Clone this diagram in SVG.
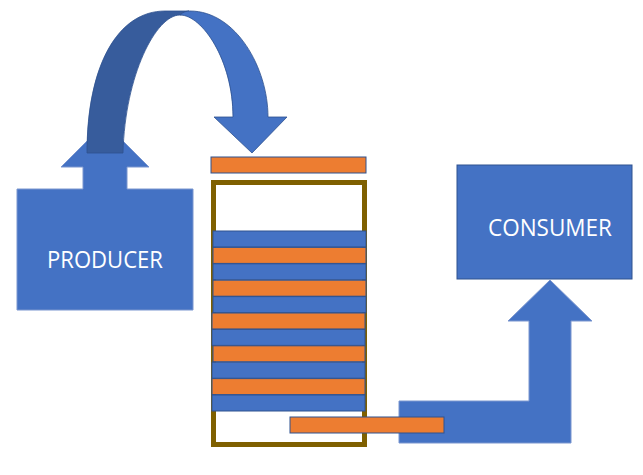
<svg xmlns="http://www.w3.org/2000/svg" width="643" height="475" viewBox="0 0 643 475">
<style>
.blue{fill:#4472C4;stroke:#2F528F;stroke-width:1}
.orange{fill:#ED7D31;stroke:#2F528F;stroke-width:1}
.shape{fill:#4472C4;stroke:#7A96CF;stroke-width:1}
.lbl{font-family:"Open Sans","Liberation Sans",sans-serif;font-size:23px;fill:#FFFFFF;text-anchor:middle}
</style>
<rect width="643" height="475" fill="#FFFFFF"/>
<g id="producer">
<polygon class="shape" points="17,189 83,189 83,167 61,167 105,123 149,167 127,167 127,189 193,189 193,310 17,310"/>
<text class="lbl" x="105" y="268" textLength="116" lengthAdjust="spacingAndGlyphs">PRODUCER</text>
</g>
<g id="connectors">
<g id="curved-arrow">
<path d="M87,153 C87,65 118,11 165,11 L189,11 L180,15 C156,15 125,75 123,153 Z" fill="#375C9C" stroke="#2F528F" stroke-width="0.8"/>
<path d="M180,15 C183,12 186,11 190,11 C236,11 268,68 268,117 L287,117 L252,153 L214,117 L233,117 C233,60 202,15 180,15 Z" fill="#4472C4" stroke="#2F528F" stroke-width="0.8"/>
</g>
<polygon id="bent-arrow" class="shape" points="399,401 529,401 529,321 508,321 550,280 592,321 571,321 571,443 399,443"/>
</g>
<g id="buffer">
<rect x="213.5" y="182.5" width="151" height="262" fill="#FFFFFF" stroke="#7F6000" stroke-width="5"/>
<rect class="blue" x="213" y="231" width="153" height="16"/>
<rect class="orange" x="213" y="247.4" width="153" height="16"/>
<rect class="blue" x="213" y="263.8" width="153" height="16"/>
<rect class="orange" x="213" y="280.2" width="153" height="16"/>
<rect class="blue" x="213" y="296.6" width="153" height="16"/>
<rect class="orange" x="212" y="313" width="153" height="16"/>
<rect class="blue" x="212" y="329.4" width="153" height="16"/>
<rect class="orange" x="213" y="345.8" width="152" height="16"/>
<rect class="blue" x="212" y="362.2" width="153" height="16"/>
<rect class="orange" x="212" y="378.6" width="153" height="16"/>
<rect class="blue" x="212" y="395" width="153" height="16"/>
</g>
<g id="incoming-item">
<rect class="orange" x="211" y="157" width="155" height="16"/>
</g>
<g id="outgoing-item">
<rect class="orange" x="290" y="417" width="154" height="16"/>
</g>
<g id="consumer">
<rect class="blue" x="457" y="165" width="175" height="114"/>
<text class="lbl" x="550" y="236" textLength="124" lengthAdjust="spacingAndGlyphs">CONSUMER</text>
</g>
</svg>
